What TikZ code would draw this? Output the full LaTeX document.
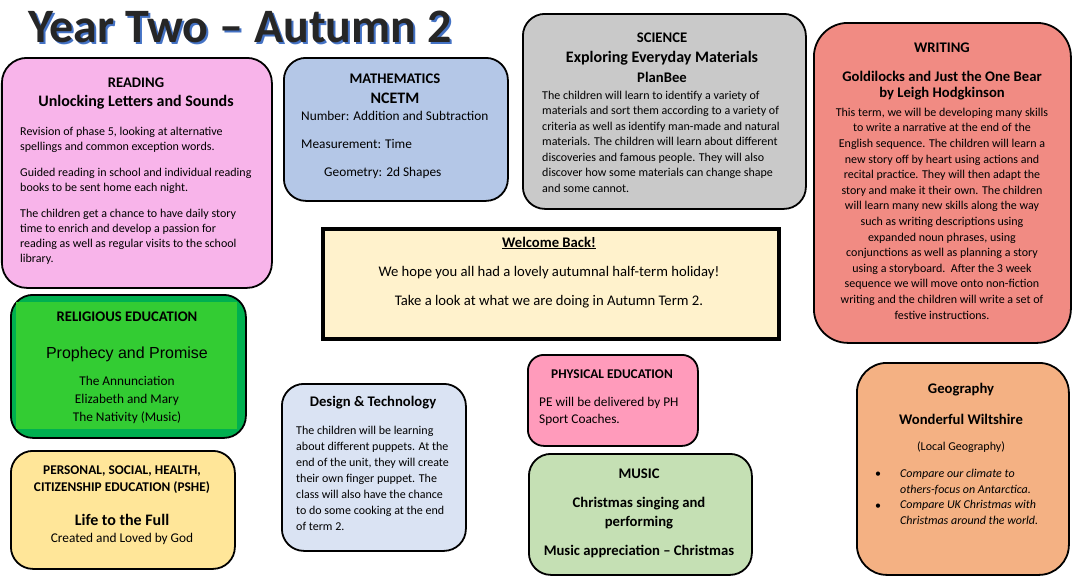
\documentclass[tikz,border=0pt]{standalone}
\usepackage{fontspec}
\setmainfont{Carlito}
\newfontfamily\arialfont{Liberation Sans}
\usetikzlibrary{positioning}

\definecolor{readpink}{HTML}{F8B4EA}
\definecolor{mathblue}{HTML}{B4C7E7}
\definecolor{scigrey}{HTML}{C9C9C9}
\definecolor{writered}{HTML}{F18B83}
\definecolor{welcomecream}{HTML}{FFF2CC}
\definecolor{redark}{HTML}{00B050}
\definecolor{relight}{HTML}{33CC33}
\definecolor{psheyellow}{HTML}{FFE699}
\definecolor{dtblue}{HTML}{DAE3F3}
\definecolor{pepink}{HTML}{FF9BBB}
\definecolor{musicgreen}{HTML}{C5E0B4}
\definecolor{geoorange}{HTML}{F4B183}
\definecolor{titlegrey}{HTML}{262626}
\definecolor{titleblue}{HTML}{4472C4}

\begin{document}
\begin{tikzpicture}[x=1pt,y=-1pt,
    panel/.style={draw=black,line width=1.8pt,rounded corners=22pt,anchor=north west,inner sep=0pt},
    head/.style={font=\bfseries\fontsize{14.67}{17}\selectfont,anchor=base},
    sub/.style={font=\bfseries\fontsize{16}{19}\selectfont,anchor=base},
    body/.style={font=\fontsize{12}{15}\selectfont,align=left,anchor=base west,inner sep=0pt},
    line/.style={font=\fontsize{13.33}{16}\selectfont,anchor=base},
    titletext/.style={font=\bfseries\fontsize{48}{52}\selectfont,anchor=base west,inner sep=0pt}]
    \useasboundingbox (0,0) rectangle (1072,579);

    % Title with its blue shadow
    \node[titletext,text=titleblue] (titleshade) at (30,44) {Year Two -- Autumn 2};
    \node[titletext,text=titlegrey] (title) at (28,42) {Year Two -- Autumn 2};

    % Panels
    \node[panel,fill=readpink,rounded corners=25pt,minimum width=270pt,minimum height=230pt] (reading) at (1,57) {};
    \node[panel,fill=mathblue,minimum width=224pt,minimum height=143pt] (maths) at (283,57) {};
    \node[panel,fill=scigrey,minimum width=283pt,minimum height=195pt] (science) at (522,13) {};
    \node[panel,fill=writered,rounded corners=34pt,minimum width=257pt,minimum height=320pt] (writing) at (813,22) {};
    \node[panel,fill=welcomecream,rounded corners=0pt,line width=4pt,minimum width=456pt,minimum height=110pt] (welcome) at (321,227) {};
    \node[panel,fill=redark,minimum width=235pt,minimum height=143pt] (re) at (10,294) {};
    \fill[relight] (16,302) rectangle (237,429);
    \node[panel,fill=psheyellow,minimum width=224pt,minimum height=118pt] (pshe) at (10,450) {};
    \node[panel,fill=dtblue,minimum width=184pt,minimum height=167pt] (dt) at (281,383) {};
    \node[panel,fill=pepink,rounded corners=16pt,minimum width=170pt,minimum height=91pt] (pe) at (527,354) {};
    \node[panel,fill=musicgreen,minimum width=223pt,minimum height=121pt] (music) at (528,453) {};
    \node[panel,fill=geoorange,rounded corners=30pt,minimum width=212pt,minimum height=212pt] (geo) at (856,362) {};

    % Reading (multi-line texts sit on their last baseline)
    \node[head] (readhead) at (136,87) {READING};
    \node[sub] (readsub) at (136,106) {Unlocking Letters and Sounds};
    \node[body] (readtxt) at (20,262) {Revision of phase 5, looking at alternative\\spellings and common exception words.\\[11pt]
      Guided reading in school and individual reading\\books to be sent home each night.\\[11pt]
      The children get a chance to have daily story\\time to enrich and develop a passion for\\reading as well as regular visits to the school\\library.};

    % Mathematics
    \node[head] (mathhead) at (395,83) {MATHEMATICS};
    \node[sub] (mathsub) at (395,103) {NCETM};
    \node[body,font=\fontsize{13.33}{15}\selectfont] (mathnum) at (301,120) {Number: Addition and Subtraction};
    \node[body,font=\fontsize{13.33}{15}\selectfont] (mathmeas) at (301,148) {Measurement: Time};
    \node[body,font=\fontsize{13.33}{15}\selectfont] (mathgeo) at (324,176) {Geometry: 2d Shapes};

    % Science
    \node[head] (scihead) at (662,42) {SCIENCE};
    \node[sub] (scisub) at (662,62) {Exploring Everyday Materials};
    \node[head] (sciplan) at (662,82) {PlanBee};
    \node[body,font=\fontsize{12}{15.5}\selectfont] (scitxt) at (542,192) {The children will learn to identify a variety of\\materials and sort them according to a variety of\\criteria as well as identify man-made and natural\\materials. The children will learn about different\\discoveries and famous people. They will also\\discover how some materials can change shape\\and some cannot.};

    % Writing
    \node[head] (writehead) at (942,52) {WRITING};
    \node[head,align=center,font=\bfseries\fontsize{14.67}{16}\selectfont] (writesub) at (942,97) {Goldilocks and Just the One Bear\\by Leigh Hodgkinson};
    \node[body,align=center,anchor=base,font=\fontsize{12}{15.6}\selectfont] (writetxt) at (942,319) {This term, we will be developing many skills\\to write a narrative at the end of the\\English sequence. The children will learn a\\new story off by heart using actions and\\recital practice. They will then adapt the\\story and make it their own. The children\\will learn many new skills along the way\\such as writing descriptions using\\expanded noun phrases, using\\conjunctions as well as planning a story\\using a storyboard.\ \ After the 3 week\\sequence we will move onto non-fiction\\writing and the children will write a set of\\festive instructions.};

    % Welcome
    \node[head] (welhead) at (549,247) {\underline{Welcome Back!}};
    \node[line,font=\fontsize{14.67}{17}\selectfont] (welone) at (549,276) {We hope you all had a lovely autumnal half-term holiday!};
    \node[line,font=\fontsize{14.67}{17}\selectfont] (weltwo) at (549,305) {Take a look at what we are doing in Autumn Term 2.};

    % Religious education
    \node[head] (rehead) at (127,321) {RELIGIOUS EDUCATION};
    \node[line,font=\arialfont\fontsize{16}{18}\selectfont] (resub) at (127,358) {Prophecy and Promise};
    \node[line,align=center,font=\fontsize{13.33}{18}\selectfont] (retxt) at (127,421) {The Annunciation\\Elizabeth and Mary\\The Nativity (Music)};

    % PSHE
    \node[head,align=center,font=\bfseries\fontsize{13.33}{17}\selectfont] (pshehead) at (122,491) {PERSONAL, SOCIAL, HEALTH,\\CITIZENSHIP EDUCATION (PSHE)};
    \node[sub] (pshesub) at (122,525) {Life to the Full};
    \node[line] (pshetxt) at (122,542) {Created and Loved by God};

    % Design and technology
    \node[head] (dthead) at (373,406) {Design \& Technology};
    \node[body,font=\fontsize{12}{16}\selectfont] (dttxt) at (296,530) {The children will be learning\\about different puppets. At the\\end of the unit, they will create\\their own finger puppet. The\\class will also have the chance\\to do some cooking at the end\\of term 2.};

    % Physical education
    \node[head,font=\bfseries\fontsize{13.33}{16}\selectfont] (pehead) at (612,378) {PHYSICAL EDUCATION};
    \node[body,font=\fontsize{13.33}{17}\selectfont] (petxt) at (539,423) {PE will be delivered by PH\\Sport Coaches.};

    % Music
    \node[head] (mushead) at (639,478) {MUSIC};
    \node[head,align=center,font=\bfseries\fontsize{14.67}{19}\selectfont] (mussub) at (639,526) {Christmas singing and\\performing};
    \node[head] (mustxt) at (639,555) {Music appreciation -- Christmas};

    % Geography
    \node[head] (geohead) at (961,393) {Geography};
    \node[head] (geosub) at (961,424) {Wonderful Wiltshire};
    \node[line,font=\fontsize{12}{14}\selectfont] (geoloc) at (961,450) {(Local Geography)};
    \node[body] (geodot1) at (875,477) {\textbullet};
    \node[body,font=\itshape\fontsize{12}{16}\selectfont] (geoone) at (900,493) {Compare our climate to\\others-focus on Antarctica.};
    \node[body] (geodot2) at (875,509) {\textbullet};
    \node[body,font=\itshape\fontsize{12}{16}\selectfont] (geotwo) at (900,524) {Compare UK Christmas with\\Christmas around the world.};
\end{tikzpicture}
\end{document}
